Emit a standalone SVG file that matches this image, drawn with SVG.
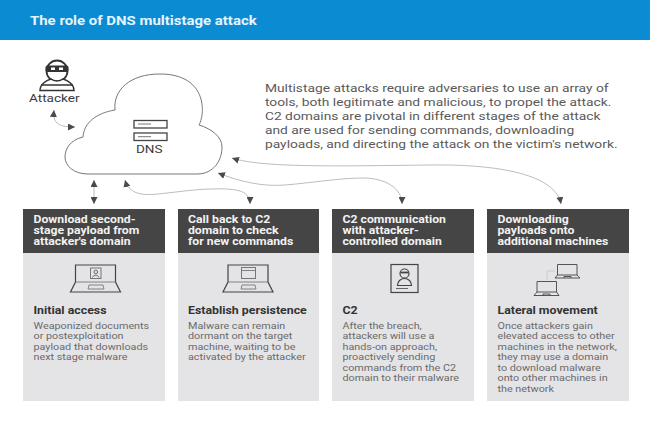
<svg xmlns="http://www.w3.org/2000/svg" width="650" height="433" viewBox="0 0 650 433">
<defs>
<marker id="tip" viewBox="0 0 10 10" refX="10" refY="5" markerWidth="7" markerHeight="7" markerUnits="userSpaceOnUse" orient="auto-start-reverse"><path d="M0 0L10 5L0 10Z" fill="#4a4a4a"/></marker>
</defs>
<style>
text{font-family:Roboto,"Liberation Sans",sans-serif;transform-box:fill-box;transform-origin:0 0;transform:scaleX(1.2)}
.title{font-size:13px;font-weight:700;fill:#e6f4fc;transform:scaleX(1.15)}
.card{fill:#e4e4e6}
.band{fill:#454545}
.hd{font-size:10.2px;font-weight:700;fill:#f2f2f2}
.sub{font-size:10.3px;font-weight:700;fill:#333}
.body{font-size:9px;fill:#6a6a6a}
.intro{font-size:11.5px;fill:#5a5a5a}
.lbl{font-size:11.3px;fill:#3a3a3a}
.ln{fill:none;stroke:#444;stroke-width:1.2}
.thin{fill:none;stroke:#777;stroke-width:.9}
.link{fill:none;stroke:#b4b4b4;stroke-width:.9;marker-start:url(#tip);marker-end:url(#tip)}
</style>
<rect width="650" height="40" fill="#0b8bd2"/>
<text class="title" x="30" y="25.500">The role of DNS multistage attack</text>

<g id="attacker">
<circle cx="57" cy="71" r="10.500" fill="#fff" stroke="#333" stroke-width="1.800"/>
<rect x="45.500" y="65.500" width="23" height="6.500" rx="2" fill="#333"/>
<rect x="51" y="67.500" width="4" height="2.500" fill="#fff"/><rect x="59" y="67.500" width="4" height="2.500" fill="#fff"/>
<path d="M40 90.500c0-6 6-10 11-11.500 3 2.500 9 2.500 12 0 5 1.500 11 5.500 11 11.500z" fill="#fff" stroke="#333" stroke-width="1.500"/>
<path d="M41 85h32" stroke="#333" stroke-width="1.500"/>
<text class="lbl" x="29" y="102.500">Attacker</text>
</g>

<g id="dns">
<path d="M88 174H197C214 174 222 160 222 147C222 137 212 129 199 125C206 112 206 74 160 74C130 74 113 90 115 110C97 113 84 122 83 137C70 140 65 149 65 157C65 166 74 174 88 174Z" fill="#fff" stroke="#777" stroke-width="1"/>
<rect x="134" y="120.500" width="33" height="7.500" fill="#fff" stroke="#444" stroke-width="1.300"/>
<rect x="134" y="133" width="33" height="7.500" fill="#fff" stroke="#444" stroke-width="1.300"/>
<path d="M138 124h13M138 136.700h13" stroke="#777"/>
<text class="lbl" x="136" y="153">DNS</text>
</g>

<g id="connectors">
<path class="link" d="M54 110C53 122 56 127 75 127"/>
<path class="link" d="M94 180V204"/>
<path class="link" d="M125 180C130 198 150 195 167 193C185 191 200 189 213 189C240 188 250 192 250 204"/>
<path class="link" d="M218 173C238 181 262 187 285 185C310 183 340 178 363 178C385 178 402 188 402 204"/>
<path class="link" d="M232 158C262 168 340 166 430 165C500 164 556 175 561 204"/>
</g>

<g id="card-initial">
<rect class="card" x="23" y="209" width="142" height="192"/>
<rect class="band" x="23" y="209" width="142" height="44"/>
<text class="hd" x="33.500" y="223.500">Download second-</text>
<text class="hd" x="33.500" y="234.500">stage payload from</text>
<text class="hd" x="33.500" y="245.500">attacker's domain</text>
<path class="ln" d="M75.500 282V265H115.500V282L120.500 292H70.500Z"/>
<path class="thin" d="M75.500 282H115.500M88 289L89 285H103L104 289Z"/>
<rect x="90.500" y="268" width="10.500" height="10.500" fill="none" stroke="#777"/>
<circle cx="95.800" cy="272" r="1.800" fill="none" stroke="#666"/>
<path d="M92.500 277.500c1-3 5.500-3 6.500 0" fill="none" stroke="#666"/>
<text class="sub" x="33.500" y="314.500">Initial access</text>
<text class="body" x="33.500" y="329">Weaponized documents</text>
<text class="body" x="33.500" y="339.500">or postexploitation</text>
<text class="body" x="33.500" y="350">payload that downloads</text>
<text class="body" x="33.500" y="360.500">next stage malware</text>
</g>

<g id="card-persistence">
<rect class="card" x="178" y="209" width="141" height="192"/>
<rect class="band" x="178" y="209" width="141" height="44"/>
<text class="hd" x="188" y="223.500">Call back to C2</text>
<text class="hd" x="188" y="234.500">domain to check</text>
<text class="hd" x="188" y="245.500">for new commands</text>
<path class="ln" d="M228 282V265H268V282L273 292H223Z"/>
<path class="thin" d="M228 282H268M241 289L242 285H255L256 289Z"/>
<rect x="241.500" y="267.500" width="14" height="11" fill="none" stroke="#777"/>
<path class="thin" d="M241.500 270.500H255.500"/>
<text class="sub" x="188" y="314.500">Establish persistence</text>
<text class="body" x="188" y="329">Malware can remain</text>
<text class="body" x="188" y="339.500">dormant on the target</text>
<text class="body" x="188" y="350">machine, waiting to be</text>
<text class="body" x="188" y="360.500">activated by the attacker</text>
</g>

<g id="card-c2">
<rect class="card" x="332" y="209" width="142" height="192"/>
<rect class="band" x="332" y="209" width="142" height="44"/>
<text class="hd" x="342.500" y="223.500">C2 communication</text>
<text class="hd" x="342.500" y="234.500">with attacker-</text>
<text class="hd" x="342.500" y="245.500">controlled domain</text>
<rect x="391" y="264.500" width="27" height="28" fill="none" stroke="#444" stroke-width="1.200"/>
<circle cx="404.500" cy="273.500" r="4.500" fill="none" stroke="#444" stroke-width="1.200"/>
<path d="M400.500 272.500h8" stroke="#444" stroke-width="1.800"/>
<path d="M397.500 285.500c0-4 3-7 7-7s7 3 7 7z" fill="none" stroke="#444" stroke-width="1.200"/>
<path d="M396 288.500h12" stroke="#666"/>
<text class="sub" x="342.500" y="314.500">C2</text>
<text class="body" x="342.500" y="329">After the breach,</text>
<text class="body" x="342.500" y="339.500">attackers will use a</text>
<text class="body" x="342.500" y="350">hands-on approach,</text>
<text class="body" x="342.500" y="360.500">proactively sending</text>
<text class="body" x="342.500" y="371">commands from the C2</text>
<text class="body" x="342.500" y="381.500">domain to their malware</text>
</g>

<g id="card-lateral">
<rect class="card" x="487" y="209" width="142" height="192"/>
<rect class="band" x="487" y="209" width="142" height="44"/>
<text class="hd" x="497.500" y="223.500">Downloading</text>
<text class="hd" x="497.500" y="234.500">payloads onto</text>
<text class="hd" x="497.500" y="245.500">additional machines</text>
<path d="M555 271H547V280" fill="none" stroke="#c4c4c4" stroke-width=".8"/>
<path class="ln" style="stroke-width:.9" d="M557.500 264.500H577V275L580 278H555L557.500 275ZM557.500 275H577M564 278V276.500H571V278"/>
<path class="ln" style="stroke-width:.9" d="M537 281.500H556.500V292L559 295.500H534L537 292ZM537 292H556.500M543 295.500V294H550V295.500"/>
<text class="sub" x="497.500" y="314.500">Lateral movement</text>
<text class="body" x="497.500" y="329">Once attackers gain</text>
<text class="body" x="497.500" y="339.500">elevated access to other</text>
<text class="body" x="497.500" y="350">machines in the network,</text>
<text class="body" x="497.500" y="360.500">they may use a domain</text>
<text class="body" x="497.500" y="371">to download malware</text>
<text class="body" x="497.500" y="381.500">onto other machines in</text>
<text class="body" x="497.500" y="392">the network</text>
</g>

<g id="intro">
<text class="intro" x="265" y="92.500">Multistage attacks require adversaries to use an array of</text>
<text class="intro" x="265" y="106.300">tools, both legitimate and malicious, to propel the attack.</text>
<text class="intro" x="265" y="120">C2 domains are pivotal in different stages of the attack</text>
<text class="intro" x="265" y="133.800">and are used for sending commands, downloading</text>
<text class="intro" x="265" y="147.600">payloads, and directing the attack on the victim's network.</text>
</g>
</svg>
